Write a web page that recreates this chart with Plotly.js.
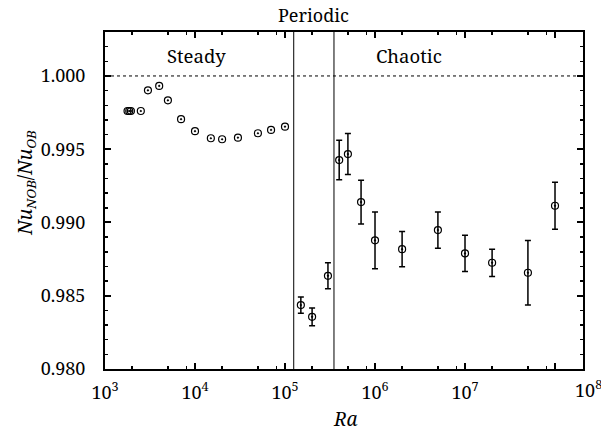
<!DOCTYPE html>
<html>
<head>
<meta charset="utf-8">
<script src="https://cdn.plot.ly/plotly-3.0.1.min.js"></script>
<style>
html,body{margin:0;padding:0;background:#fff;}
#chart{width:601px;height:434px;}
</style>
</head>
<body>
<div id="chart"></div>
<script>
// Steady regime (no error bars)
const steadyRa = [1780, 1860, 1940, 2500, 3000, 4000, 5000, 7000, 10000, 15000, 20000, 30000, 50000, 70000, 100000];
const steadyNu = [0.99761, 0.99761, 0.99761, 0.99761, 0.99902, 0.99932, 0.99834, 0.99705, 0.99623, 0.99575, 0.99568, 0.99579, 0.99609, 0.99632, 0.99654];

// Periodic + chaotic regimes (with error bars)
const unsteadyRa = [1.5e5, 2e5, 3e5, 4e5, 5e5, 7e5, 1e6, 2e6, 5e6, 1e7, 2e7, 5e7, 1e8];
const unsteadyNu = [0.98436, 0.98356, 0.98636, 0.99426, 0.99467, 0.99139, 0.98878, 0.98818, 0.98948, 0.98789, 0.98725, 0.98657, 0.99114];
const unsteadyErr = [0.00056, 0.00060, 0.00089, 0.00135, 0.00140, 0.00150, 0.00193, 0.00120, 0.00124, 0.00123, 0.00093, 0.00220, 0.00160];

// Regime boundaries
const boundaries = [1.25e5, 3.5e5];
const regimeLabels = ["Steady", "Periodic", "Chaotic"];

const xTickVals = [1e3, 1e4, 1e5, 1e6, 1e7, 1e8];
const xTickText = ["10<sup>3</sup>", "10<sup>4</sup>", "10<sup>5</sup>", "10<sup>6</sup>", "10<sup>7</sup>", ""];
const xLastLabel = "10<sup>8</sup>";
const xMinorVals = [];
[1e3, 1e4, 1e5, 1e6, 1e7, 1e8].forEach(d => [2, 5, 8].forEach(m => xMinorVals.push(m * d)));
const yTickVals = [0.980, 0.985, 0.990, 0.995, 1.000];
const yTickText = ["0.980", "0.985", "0.990", "0.995", "1.000"];
const xTitle = "<i>Ra</i>";
const yTitle = "<i>Nu</i><sub><i>NOB</i></sub>/<i>Nu</i><sub><i>OB</i></sub>";

const FONT = "Noto Serif";

const marker = {symbol: 'circle-open-dot', size: 7, color: '#000', line: {color: '#000', width: 1.2}};

const traces = [
  {x: steadyRa, y: steadyNu, type: 'scatter', mode: 'markers', marker: marker, hoverinfo: 'skip'},
  {x: unsteadyRa, y: unsteadyNu, type: 'scatter', mode: 'markers', marker: marker,
   error_y: {type: 'data', array: unsteadyErr, visible: true, color: '#000', thickness: 1.5, width: 3}, hoverinfo: 'skip'}
];

const shapes = boundaries.map(b => ({type: 'line', xref: 'x', yref: 'paper', x0: b, x1: b, y0: 0, y1: 1, line: {color: '#000', width: 1}}));
shapes.push({type: 'line', xref: 'paper', yref: 'y', x0: 0, x1: 1, y0: 1.0, y1: 1.0, line: {color: '#000', width: 1, dash: 'dot'}});

const midLog = (Math.log10(boundaries[0]) + Math.log10(boundaries[1])) / 2;
const annotations = [
  {text: regimeLabels[0], x: 4.022, y: 1.00137, xref: 'x', yref: 'y', showarrow: false, font: {family: FONT, size: 18.5, color: '#000'}},
  {text: regimeLabels[1], x: midLog, y: 1.051, xref: 'x', yref: 'paper', showarrow: false, yanchor: 'middle', font: {family: FONT, size: 18, color: '#000'}},
  {text: regimeLabels[2], x: 6.383, y: 1.00137, xref: 'x', yref: 'y', showarrow: false, font: {family: FONT, size: 18.5, color: '#000'}},
  {text: xLastLabel, x: 1.0105, y: -0.059, xref: 'paper', yref: 'paper', showarrow: false, xanchor: 'center', yanchor: 'middle', font: {family: FONT, size: 18, color: '#000'}},
  {text: xTitle, x: 0.503, y: -0.148, xref: 'paper', yref: 'paper', showarrow: false, xanchor: 'center', yanchor: 'middle', font: {family: FONT, size: 19, color: '#000'}},
  {text: yTitle, x: -0.165, y: 0.553, xref: 'paper', yref: 'paper', showarrow: false, textangle: -90, xanchor: 'center', yanchor: 'middle', font: {family: FONT, size: 19, color: '#000'}}
];

const layout = {
  width: 601, height: 434,
  margin: {l: 105, r: 18, t: 32, b: 65},
  paper_bgcolor: '#fff', plot_bgcolor: '#fff',
  showlegend: false,
  font: {family: FONT, size: 18, color: '#000'},
  xaxis: {
    type: 'log', range: [3, 8.311],
    tickmode: 'array', tickvals: xTickVals, ticktext: xTickText,
    ticks: 'inside', ticklen: 6, tickwidth: 2, tickcolor: '#000',
    minor: {tickmode: 'array', tickvals: xMinorVals, ticks: 'inside', ticklen: 3, tickwidth: 1.5, tickcolor: '#000'},
    showline: true, linewidth: 2, linecolor: '#000', mirror: 'ticks',
    showgrid: false, zeroline: false,
    ticklabelstandoff: 6,
    tickfont: {family: FONT, size: 18}
  },
  yaxis: {
    range: [0.980, 1.003],
    tickmode: 'array', tickvals: yTickVals, ticktext: yTickText,
    ticks: 'inside', ticklen: 6, tickwidth: 2, tickcolor: '#000',
    minor: {dtick: 0.001, ticks: 'inside', ticklen: 3, tickwidth: 1.5, tickcolor: '#000'},
    showline: true, linewidth: 2, linecolor: '#000', mirror: 'ticks',
    showgrid: false, zeroline: false,
    ticklabelstandoff: 14,
    tickfont: {family: FONT, size: 18}
  },
  shapes: shapes,
  annotations: annotations
};

Plotly.newPlot('chart', traces, layout, {displayModeBar: false, staticPlot: true});
</script>
</body>
</html>
